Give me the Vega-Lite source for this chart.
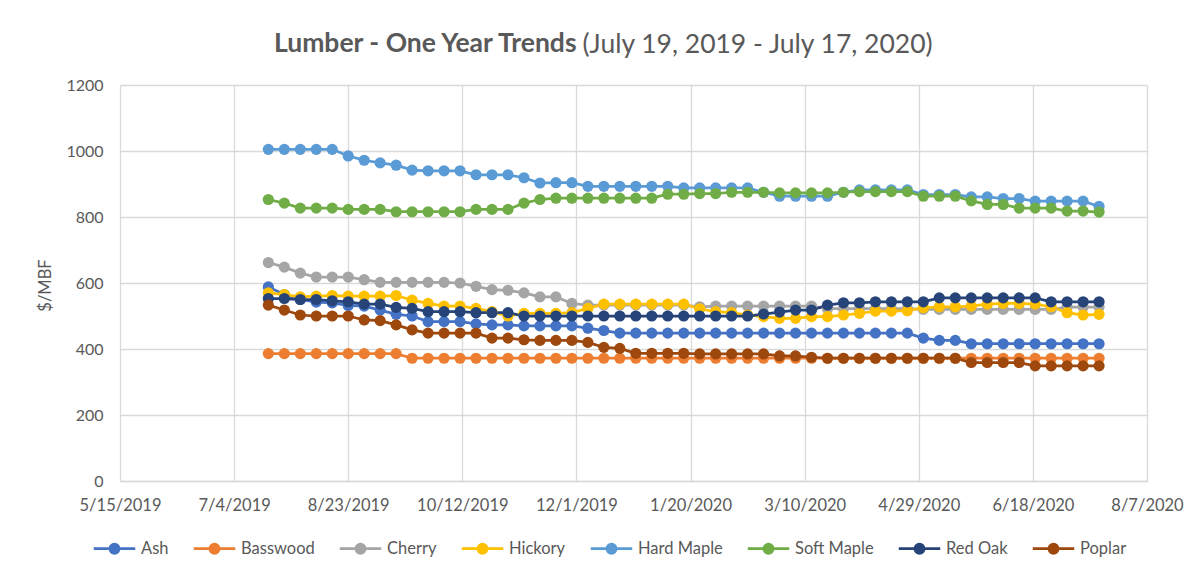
{
  "$schema": "https://vega.github.io/schema/vega-lite/v6.json",
  "width": 1027,
  "height": 396,
  "autosize": {"type": "none"},
  "padding": {"left": 120, "top": 85, "right": 55, "bottom": 92},
  "background": "white",
  "title": {
    "text": "Lumber - One Year Trends",
    "anchor": "start",
    "frame": "group",
    "dx": 154,
    "offset": -47.5,
    "baseline": "alphabetic",
    "font": "Lato",
    "fontSize": 26.5,
    "fontWeight": "bold",
    "color": "#595959"
  },
  "data": {
    "values": [
      {"d": "2019-07-19", "Ash": 588, "Basswood": 386, "Cherry": 662, "Hickory": 570, "Hard Maple": 1005, "Soft Maple": 853, "Red Oak": 553, "Poplar": 533},
      {"d": "2019-07-26", "Ash": 565, "Basswood": 386, "Cherry": 648, "Hickory": 565, "Hard Maple": 1005, "Soft Maple": 842, "Red Oak": 553, "Poplar": 518},
      {"d": "2019-08-02", "Ash": 550, "Basswood": 386, "Cherry": 630, "Hickory": 558, "Hard Maple": 1005, "Soft Maple": 827, "Red Oak": 550, "Poplar": 503},
      {"d": "2019-08-09", "Ash": 542, "Basswood": 386, "Cherry": 618, "Hickory": 560, "Hard Maple": 1005, "Soft Maple": 827, "Red Oak": 550, "Poplar": 500},
      {"d": "2019-08-16", "Ash": 540, "Basswood": 386, "Cherry": 618, "Hickory": 562, "Hard Maple": 1005, "Soft Maple": 827, "Red Oak": 546, "Poplar": 500},
      {"d": "2019-08-23", "Ash": 532, "Basswood": 386, "Cherry": 618, "Hickory": 560, "Hard Maple": 985, "Soft Maple": 823, "Red Oak": 543, "Poplar": 500},
      {"d": "2019-08-30", "Ash": 530, "Basswood": 386, "Cherry": 610, "Hickory": 560, "Hard Maple": 972, "Soft Maple": 823, "Red Oak": 536, "Poplar": 488},
      {"d": "2019-09-06", "Ash": 518, "Basswood": 386, "Cherry": 602, "Hickory": 560, "Hard Maple": 964, "Soft Maple": 823, "Red Oak": 536, "Poplar": 486},
      {"d": "2019-09-13", "Ash": 505, "Basswood": 386, "Cherry": 602, "Hickory": 562, "Hard Maple": 957, "Soft Maple": 816, "Red Oak": 526, "Poplar": 473},
      {"d": "2019-09-20", "Ash": 500, "Basswood": 372, "Cherry": 602, "Hickory": 548, "Hard Maple": 942, "Soft Maple": 816, "Red Oak": 523, "Poplar": 458},
      {"d": "2019-09-27", "Ash": 483, "Basswood": 372, "Cherry": 602, "Hickory": 538, "Hard Maple": 940, "Soft Maple": 816, "Red Oak": 513, "Poplar": 448},
      {"d": "2019-10-04", "Ash": 483, "Basswood": 372, "Cherry": 602, "Hickory": 530, "Hard Maple": 940, "Soft Maple": 816, "Red Oak": 513, "Poplar": 448},
      {"d": "2019-10-11", "Ash": 483, "Basswood": 372, "Cherry": 600, "Hickory": 530, "Hard Maple": 940, "Soft Maple": 816, "Red Oak": 513, "Poplar": 448},
      {"d": "2019-10-18", "Ash": 476, "Basswood": 372, "Cherry": 590, "Hickory": 523, "Hard Maple": 928, "Soft Maple": 823, "Red Oak": 510, "Poplar": 448},
      {"d": "2019-10-25", "Ash": 473, "Basswood": 372, "Cherry": 580, "Hickory": 513, "Hard Maple": 928, "Soft Maple": 823, "Red Oak": 510, "Poplar": 433},
      {"d": "2019-11-01", "Ash": 473, "Basswood": 372, "Cherry": 578, "Hickory": 500, "Hard Maple": 928, "Soft Maple": 823, "Red Oak": 510, "Poplar": 433},
      {"d": "2019-11-08", "Ash": 470, "Basswood": 372, "Cherry": 570, "Hickory": 508, "Hard Maple": 919, "Soft Maple": 842, "Red Oak": 500, "Poplar": 428},
      {"d": "2019-11-15", "Ash": 470, "Basswood": 372, "Cherry": 558, "Hickory": 508, "Hard Maple": 903, "Soft Maple": 853, "Red Oak": 500, "Poplar": 426},
      {"d": "2019-11-22", "Ash": 470, "Basswood": 372, "Cherry": 558, "Hickory": 508, "Hard Maple": 904, "Soft Maple": 857, "Red Oak": 500, "Poplar": 426},
      {"d": "2019-11-29", "Ash": 470, "Basswood": 372, "Cherry": 538, "Hickory": 510, "Hard Maple": 904, "Soft Maple": 857, "Red Oak": 500, "Poplar": 426},
      {"d": "2019-12-06", "Ash": 463, "Basswood": 372, "Cherry": 533, "Hickory": 523, "Hard Maple": 893, "Soft Maple": 857, "Red Oak": 500, "Poplar": 420},
      {"d": "2019-12-13", "Ash": 456, "Basswood": 372, "Cherry": 533, "Hickory": 536, "Hard Maple": 893, "Soft Maple": 857, "Red Oak": 500, "Poplar": 405},
      {"d": "2019-12-20", "Ash": 448, "Basswood": 372, "Cherry": 533, "Hickory": 536, "Hard Maple": 893, "Soft Maple": 857, "Red Oak": 500, "Poplar": 402},
      {"d": "2019-12-27", "Ash": 448, "Basswood": 372, "Cherry": 533, "Hickory": 536, "Hard Maple": 893, "Soft Maple": 857, "Red Oak": 500, "Poplar": 387},
      {"d": "2020-01-03", "Ash": 448, "Basswood": 372, "Cherry": 533, "Hickory": 536, "Hard Maple": 893, "Soft Maple": 857, "Red Oak": 500, "Poplar": 387},
      {"d": "2020-01-10", "Ash": 448, "Basswood": 372, "Cherry": 533, "Hickory": 536, "Hard Maple": 893, "Soft Maple": 869, "Red Oak": 500, "Poplar": 387},
      {"d": "2020-01-17", "Ash": 448, "Basswood": 372, "Cherry": 533, "Hickory": 536, "Hard Maple": 888, "Soft Maple": 869, "Red Oak": 500, "Poplar": 387},
      {"d": "2020-01-24", "Ash": 448, "Basswood": 372, "Cherry": 528, "Hickory": 522, "Hard Maple": 888, "Soft Maple": 871, "Red Oak": 500, "Poplar": 385},
      {"d": "2020-01-31", "Ash": 448, "Basswood": 372, "Cherry": 530, "Hickory": 513, "Hard Maple": 888, "Soft Maple": 871, "Red Oak": 500, "Poplar": 385},
      {"d": "2020-02-07", "Ash": 448, "Basswood": 372, "Cherry": 530, "Hickory": 510, "Hard Maple": 888, "Soft Maple": 875, "Red Oak": 500, "Poplar": 385},
      {"d": "2020-02-14", "Ash": 448, "Basswood": 372, "Cherry": 530, "Hickory": 503, "Hard Maple": 888, "Soft Maple": 875, "Red Oak": 500, "Poplar": 385},
      {"d": "2020-02-21", "Ash": 448, "Basswood": 372, "Cherry": 530, "Hickory": 498, "Hard Maple": 875, "Soft Maple": 875, "Red Oak": 506, "Poplar": 385},
      {"d": "2020-02-28", "Ash": 448, "Basswood": 372, "Cherry": 530, "Hickory": 493, "Hard Maple": 863, "Soft Maple": 873, "Red Oak": 512, "Poplar": 379},
      {"d": "2020-03-06", "Ash": 448, "Basswood": 372, "Cherry": 530, "Hickory": 493, "Hard Maple": 863, "Soft Maple": 873, "Red Oak": 518, "Poplar": 379},
      {"d": "2020-03-13", "Ash": 448, "Basswood": 372, "Cherry": 530, "Hickory": 498, "Hard Maple": 863, "Soft Maple": 873, "Red Oak": 518, "Poplar": 375},
      {"d": "2020-03-20", "Ash": 448, "Basswood": 372, "Cherry": 522, "Hickory": 498, "Hard Maple": 863, "Soft Maple": 873, "Red Oak": 533, "Poplar": 372},
      {"d": "2020-03-27", "Ash": 448, "Basswood": 372, "Cherry": 522, "Hickory": 503, "Hard Maple": 875, "Soft Maple": 875, "Red Oak": 540, "Poplar": 372},
      {"d": "2020-04-03", "Ash": 448, "Basswood": 372, "Cherry": 522, "Hickory": 508, "Hard Maple": 882, "Soft Maple": 877, "Red Oak": 540, "Poplar": 372},
      {"d": "2020-04-10", "Ash": 448, "Basswood": 372, "Cherry": 522, "Hickory": 515, "Hard Maple": 882, "Soft Maple": 877, "Red Oak": 543, "Poplar": 372},
      {"d": "2020-04-17", "Ash": 448, "Basswood": 372, "Cherry": 522, "Hickory": 515, "Hard Maple": 882, "Soft Maple": 877, "Red Oak": 543, "Poplar": 372},
      {"d": "2020-04-24", "Ash": 448, "Basswood": 372, "Cherry": 522, "Hickory": 516, "Hard Maple": 882, "Soft Maple": 877, "Red Oak": 543, "Poplar": 372},
      {"d": "2020-05-01", "Ash": 433, "Basswood": 372, "Cherry": 520, "Hickory": 525, "Hard Maple": 868, "Soft Maple": 863, "Red Oak": 543, "Poplar": 372},
      {"d": "2020-05-08", "Ash": 426, "Basswood": 372, "Cherry": 520, "Hickory": 528, "Hard Maple": 868, "Soft Maple": 863, "Red Oak": 555, "Poplar": 372},
      {"d": "2020-05-15", "Ash": 426, "Basswood": 372, "Cherry": 520, "Hickory": 528, "Hard Maple": 868, "Soft Maple": 863, "Red Oak": 555, "Poplar": 372},
      {"d": "2020-05-22", "Ash": 416, "Basswood": 372, "Cherry": 520, "Hickory": 530, "Hard Maple": 861, "Soft Maple": 849, "Red Oak": 555, "Poplar": 359},
      {"d": "2020-05-29", "Ash": 416, "Basswood": 372, "Cherry": 520, "Hickory": 536, "Hard Maple": 861, "Soft Maple": 838, "Red Oak": 555, "Poplar": 359},
      {"d": "2020-06-05", "Ash": 416, "Basswood": 372, "Cherry": 520, "Hickory": 538, "Hard Maple": 856, "Soft Maple": 838, "Red Oak": 555, "Poplar": 359},
      {"d": "2020-06-12", "Ash": 416, "Basswood": 372, "Cherry": 520, "Hickory": 538, "Hard Maple": 856, "Soft Maple": 827, "Red Oak": 555, "Poplar": 359},
      {"d": "2020-06-19", "Ash": 416, "Basswood": 372, "Cherry": 520, "Hickory": 536, "Hard Maple": 848, "Soft Maple": 827, "Red Oak": 555, "Poplar": 349},
      {"d": "2020-06-26", "Ash": 416, "Basswood": 372, "Cherry": 520, "Hickory": 528, "Hard Maple": 848, "Soft Maple": 827, "Red Oak": 543, "Poplar": 349},
      {"d": "2020-07-03", "Ash": 416, "Basswood": 372, "Cherry": 527, "Hickory": 510, "Hard Maple": 848, "Soft Maple": 818, "Red Oak": 543, "Poplar": 349},
      {"d": "2020-07-10", "Ash": 416, "Basswood": 372, "Cherry": 527, "Hickory": 503, "Hard Maple": 848, "Soft Maple": 818, "Red Oak": 543, "Poplar": 349},
      {"d": "2020-07-17", "Ash": 416, "Basswood": 372, "Cherry": 527, "Hickory": 505, "Hard Maple": 832, "Soft Maple": 815, "Red Oak": 543, "Poplar": 349}
    ]
  },
  "transform": [
    {"fold": ["Ash", "Basswood", "Cherry", "Hickory", "Hard Maple", "Soft Maple", "Red Oak", "Poplar"], "as": ["s", "v"]}
  ],
  "mark": {"type": "line", "strokeWidth": 2.75, "point": {"filled": true, "size": 125, "opacity": 1}},
  "encoding": {
    "x": {
      "field": "d",
      "type": "temporal",
      "scale": {
        "type": "utc",
        "nice": false,
        "domain": [{"year": 2019, "month": 5, "date": 15, "utc": true}, {"year": 2020, "month": 8, "date": 7, "utc": true}]
      },
      "axis": {
        "title": "(July 19, 2019 - July 17, 2020)",
        "titleFont": "Lato",
        "titleFontSize": 26.5,
        "titleFontWeight": "normal",
        "titleColor": "#595959",
        "titleX": 462,
        "titleY": -429,
        "titleAlign": "left",
        "titleBaseline": "alphabetic",
        "titleAnchor": "start",
        "values": [
          {"year": 2019, "month": 5, "date": 15, "utc": true},
          {"year": 2019, "month": 7, "date": 4, "utc": true},
          {"year": 2019, "month": 8, "date": 23, "utc": true},
          {"year": 2019, "month": 10, "date": 12, "utc": true},
          {"year": 2019, "month": 12, "date": 1, "utc": true},
          {"year": 2020, "month": 1, "date": 20, "utc": true},
          {"year": 2020, "month": 3, "date": 10, "utc": true},
          {"year": 2020, "month": 4, "date": 29, "utc": true},
          {"year": 2020, "month": 6, "date": 18, "utc": true},
          {"year": 2020, "month": 8, "date": 7, "utc": true}
        ],
        "labelExpr": "utcFormat(datum.value, '%-m/%-d/%Y')",
        "grid": true,
        "gridColor": "#d9d9d9",
        "gridWidth": 1.3,
        "ticks": false,
        "domainColor": "#d9d9d9",
        "domainWidth": 1.3,
        "labelFont": "Lato",
        "labelFontSize": 16.5,
        "labelColor": "#595959",
        "labelPadding": 16,
        "labelFlush": false,
        "labelOverlap": false
      }
    },
    "y": {
      "field": "v",
      "type": "quantitative",
      "scale": {"domain": [0, 1200], "nice": false},
      "axis": {
        "title": "$/MBF",
        "values": [0, 200, 400, 600, 800, 1000, 1200],
        "format": "d",
        "grid": true,
        "gridColor": "#d9d9d9",
        "gridWidth": 1.3,
        "domain": false,
        "ticks": false,
        "labelPadding": 17,
        "labelFont": "Lato",
        "labelFontSize": 16,
        "labelColor": "#595959",
        "titleFont": "Lato",
        "titleFontSize": 16.5,
        "titleFontWeight": "normal",
        "titleColor": "#595959",
        "titleAngle": -90,
        "titleX": -67,
        "titleY": 200,
        "titleAlign": "center",
        "titleBaseline": "bottom"
      }
    },
    "color": {
      "field": "s",
      "type": "nominal",
      "scale": {
        "domain": ["Ash", "Basswood", "Cherry", "Hickory", "Hard Maple", "Soft Maple", "Red Oak", "Poplar"],
        "range": ["#4472C4", "#ED7D31", "#A5A5A5", "#FFC000", "#5B9BD5", "#70AD47", "#264478", "#9E480E"]
      },
      "legend": {
        "title": null,
        "orient": "none",
        "legendX": -28,
        "legendY": 441,
        "direction": "horizontal",
        "columns": 8,
        "symbolType": "M-1,0H1M-0.22,0A0.22,0.22 0 1,0 0.22,0A0.22,0.22 0 1,0 -0.22,0",
        "symbolSize": 1722,
        "symbolStrokeWidth": 2.75,
        "symbolOpacity": 1,
        "labelFont": "Lato",
        "labelFontSize": 16.5,
        "labelColor": "#595959",
        "labelOffset": 4,
        "columnPadding": 19,
        "encode": {
          "symbols": {
            "update": {
              "fill": {"scale": "color", "field": "value"},
              "stroke": {"scale": "color", "field": "value"},
              "opacity": {"value": 1}
            }
          }
        }
      }
    }
  },
  "config": {
    "font": "Lato",
    "view": {"stroke": null}
  }
}
